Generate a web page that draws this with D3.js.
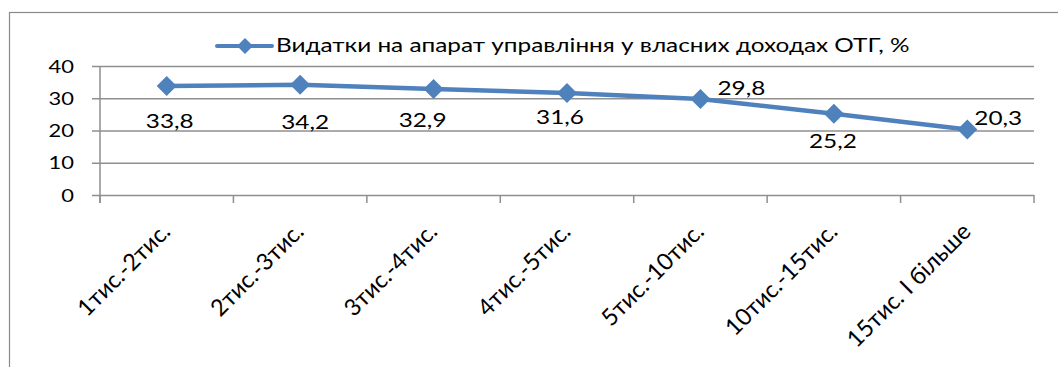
<!DOCTYPE html>
<html><head><meta charset="utf-8">
<script src="https://cdn.jsdelivr.net/npm/d3@7"></script>
<style>body{margin:0;background:#fff}svg{display:block}text{font-family:Lato,"Noto Sans",sans-serif;fill:#000}</style>
</head><body><svg id="c" width="1058" height="367"></svg>
<script>
const categories = ["1тис.-2тис.","2тис.-3тис.","3тис.-4тис.","4тис.-5тис.","5тис.-10тис.","10тис.-15тис.","15тис. І більше"];
const values = [33.8, 34.2, 32.9, 31.6, 29.8, 25.2, 20.3];
const valueLabels = ["33,8","34,2","32,9","31,6","29,8","25,2","20,3"];
const yTicks = [0, 10, 20, 30, 40];
const seriesName = "Видатки на апарат управління у власних доходах ОТГ, %";

// label layout offsets (dx, dy from point)
const labelOffsets = [[3,42],[5,44],[-11,38],[-7,31],[41,-4],[-1,34],[31,-5]];

const svg = d3.select("#c");
const blue = "#4F81BD", grid = "#8F8F8F";
const L = 100, R = 1034, T = 66, B = 195;
const x = d3.scaleBand().domain(categories).range([L, R]);
const y = d3.scaleLinear().domain([0, 40]).range([B, T]);
const cx = c => x(c) + x.bandwidth() / 2;

svg.append("rect").attr("x", 9.5).attr("y", 12.5).attr("width", 1200).attr("height", 500)
  .attr("fill", "none").attr("stroke", "#8A8A8A").attr("stroke-width", 1.2);

// legend
const lg = svg.append("g");
lg.append("line").attr("x1", 217).attr("x2", 272).attr("y1", 46).attr("y2", 46)
  .attr("stroke", blue).attr("stroke-width", 4).attr("stroke-linecap", "round");
lg.append("path").attr("d", "M0,-8L8,0L0,8L-8,0Z").attr("transform", "translate(245,46)").attr("fill", blue);
const legText = lg.append("text").attr("font-size", 20).text(seriesName);
const sx = 634 / legText.node().getComputedTextLength();
legText.attr("transform", `translate(276,52) scale(${sx},1)`);

// gridlines + y axis
const yAxis = d3.axisLeft(y).tickValues(yTicks).tickSize(-(R - 92)).tickPadding(0).tickFormat(d => "");
const gy = svg.append("g").attr("transform", `translate(92,0)`).call(yAxis);
gy.select(".domain").remove();
gy.selectAll(".tick line").attr("stroke", grid).attr("stroke-width", 1.5);
svg.append("line").attr("x1", L).attr("x2", L).attr("y1", T).attr("y2", B + 8)
  .attr("stroke", grid).attr("stroke-width", 1.5);
svg.selectAll(".ylab").data(yTicks).join("text").attr("class", "ylab")
  .attr("font-size", 18).attr("text-anchor", "end")
  .attr("transform", d => `translate(74,${y(d) + 6.5}) scale(${sx},1)`).text(d => d);

// x axis ticks
const bounds = categories.map(c => x(c)).concat([R]);
svg.selectAll(".xt").data(bounds).join("line").attr("class", "xt")
  .attr("x1", d => d).attr("x2", d => d).attr("y1", B).attr("y2", B + 8)
  .attr("stroke", grid).attr("stroke-width", 1.5);

// x labels
const xl = svg.selectAll(".xl").data(categories).join("text").attr("class", "xl")
  .attr("font-size", 20).attr("text-anchor", "end").text(d => d);
const fs = 20 * 120 / xl.node().getComputedTextLength();
xl.attr("font-size", fs).attr("transform", d => `translate(${cx(d) + 5},233) rotate(-45)`);

// line
const line = d3.line().x((d, i) => cx(categories[i])).y(d => y(d));
svg.append("path").datum(values).attr("d", line).attr("fill", "none")
  .attr("stroke", blue).attr("stroke-width", 4.5).attr("stroke-linejoin", "round");
svg.selectAll(".mk").data(values).join("path").attr("class", "mk")
  .attr("d", "M0,-10L10,0L0,10L-10,0Z").attr("fill", blue)
  .attr("transform", (d, i) => `translate(${cx(categories[i])},${y(d)})`);

// data labels
svg.selectAll(".dl").data(values).join("text").attr("class", "dl")
  .attr("font-size", 20).attr("text-anchor", "middle")
  .attr("transform", (d, i) => `translate(${cx(categories[i]) + labelOffsets[i][0]},${y(d) + labelOffsets[i][1]}) scale(${sx},1)`)
  .text((d, i) => valueLabels[i]);
</script></body></html>
